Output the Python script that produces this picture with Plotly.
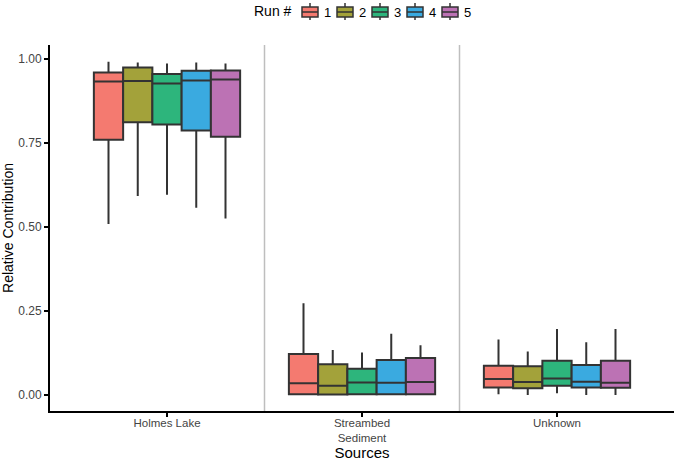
import plotly.graph_objects as go

sources = ["Holmes Lake", "Streambed<br>Sediment", "Unknown"]
runs = ["1", "2", "3", "4", "5"]
colors = ["#F47A70", "#A3A23A", "#2DB57C", "#3AAAE0", "#BC72B4"]

# per run: values for [Holmes Lake, Streambed Sediment, Unknown]
lower = [
    [0.509, 0.000, 0.002],
    [0.592, 0.000, 0.000],
    [0.596, 0.000, 0.005],
    [0.557, 0.000, 0.000],
    [0.525, 0.000, 0.000],
]
q1 = [
    [0.760, 0.002, 0.022],
    [0.812, 0.001, 0.020],
    [0.805, 0.002, 0.027],
    [0.787, 0.002, 0.022],
    [0.769, 0.002, 0.021],
]
median = [
    [0.933, 0.035, 0.047],
    [0.935, 0.027, 0.038],
    [0.927, 0.037, 0.049],
    [0.936, 0.036, 0.039],
    [0.939, 0.038, 0.036],
]
q3 = [
    [0.960, 0.122, 0.087],
    [0.975, 0.091, 0.085],
    [0.956, 0.078, 0.102],
    [0.965, 0.104, 0.089],
    [0.966, 0.110, 0.102],
]
upper = [
    [0.992, 0.273, 0.165],
    [0.990, 0.134, 0.129],
    [0.987, 0.126, 0.196],
    [0.990, 0.182, 0.157],
    [0.987, 0.148, 0.196],
]

y_ticks = [0.0, 0.25, 0.5, 0.75, 1.0]
y_ticklabels = ["0.00", "0.25", "0.50", "0.75", "1.00"]

W, H = 675, 461
ML, MR, MT, MB = 50, 1, 45, 50
PW, PH = W - ML - MR, H - MT - MB


def px(x):
    return (x - ML) / PW


def py(y):
    return (H - MB - y) / PH


fig = go.Figure()
for i, r in enumerate(runs):
    fig.add_trace(go.Box(
        name=r,
        x=sources,
        q1=q1[i], median=median[i], q3=q3[i],
        lowerfence=lower[i], upperfence=upper[i],
        fillcolor=colors[i],
        line=dict(color="#333333", width=2),
        whiskerwidth=0,
        boxpoints=False,
        showlegend=False,
    ))

shapes = []
for k in range(len(sources) - 1):
    shapes.append(dict(type="line", xref="x", yref="paper",
                       x0=k + 0.5, x1=k + 0.5, y0=0, y1=1,
                       line=dict(color="#BEBEBE", width=1.5), layer="below"))

# custom legend (ggplot-style boxplot keys)
annotations = [dict(text="Run #", xref="paper", yref="paper",
                    x=px(294), y=py(11), xanchor="right", yanchor="middle",
                    showarrow=False, font=dict(size=14, color="black"))]
key_x0, key_step, key_w = 302, 35, 16
for i, r in enumerate(runs):
    x0 = key_x0 + i * key_step
    xc = x0 + key_w / 2
    shapes.append(dict(type="line", xref="paper", yref="paper",
                       x0=px(xc), x1=px(xc), y0=py(3), y1=py(20),
                       line=dict(color="#333333", width=1.5)))
    shapes.append(dict(type="rect", xref="paper", yref="paper",
                       x0=px(x0), x1=px(x0 + key_w), y0=py(7), y1=py(17),
                       fillcolor=colors[i], line=dict(color="#333333", width=1.5)))
    shapes.append(dict(type="line", xref="paper", yref="paper",
                       x0=px(x0), x1=px(x0 + key_w), y0=py(12), y1=py(12),
                       line=dict(color="#333333", width=1.5)))
    annotations.append(dict(text=r, xref="paper", yref="paper",
                            x=px(x0 + key_w + 4), y=py(12), xanchor="left",
                            yanchor="middle", showarrow=False,
                            font=dict(size=13, color="black")))

fig.update_layout(
    width=W, height=H,
    margin=dict(l=ML, r=MR, t=MT, b=MB),
    paper_bgcolor="white", plot_bgcolor="white",
    font=dict(family="Liberation Sans, Arial, sans-serif", color="black"),
    boxmode="group", boxgap=0.25, boxgroupgap=0,
    shapes=shapes,
    annotations=annotations,
    showlegend=False,
    xaxis=dict(
        range=[-0.6, 2.6], showline=True, linecolor="black", linewidth=2,
        ticks="outside", ticklen=4, tickcolor="black", tickwidth=1.5,
        tickfont=dict(size=11.5, color="#444444"), ticklabelstandoff=-4,
        title=dict(text="Sources", font=dict(size=15), standoff=2),
        showgrid=False, zeroline=False, automargin=False,
    ),
    yaxis=dict(
        range=[-0.048, 1.042], tickvals=y_ticks, ticktext=y_ticklabels,
        showline=True, linecolor="black", linewidth=2,
        ticks="outside", ticklen=4, tickcolor="black", tickwidth=1.5,
        tickfont=dict(size=12, color="#444444"),
        title=dict(text="Relative Contribution", font=dict(size=14), standoff=6),
        showgrid=False, zeroline=False, automargin=False,
    ),
)

fig.write_html("out.html", config={"displayModeBar": False},
               post_script="document.body.style.margin='0';")
